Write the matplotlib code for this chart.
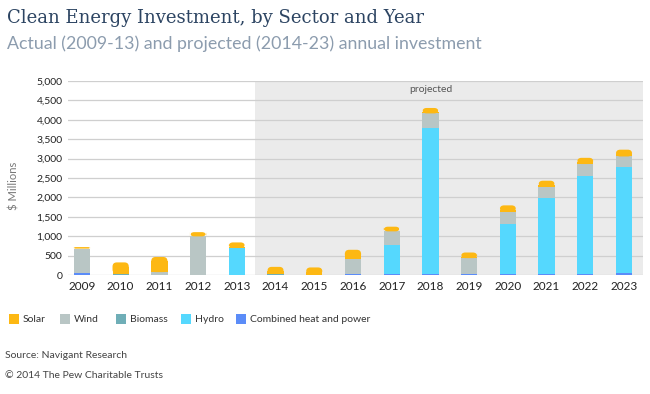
import matplotlib
matplotlib.use('Agg')
import matplotlib.pyplot as plt
from matplotlib.patches import FancyBboxPatch, Rectangle
import numpy as np

# data ($ millions)
years = ['2009', '2010', '2011', '2012', '2013', '2014', '2015', '2016',
         '2017', '2018', '2019', '2020', '2021', '2022', '2023']
chp = [60, 0, 0, 0, 0, 0, 0, 15, 15, 30, 35, 25, 35, 35, 55]
biomass = [0, 35, 0, 0, 0, 35, 10, 0, 0, 0, 0, 0, 0, 0, 0]
hydro = [0, 0, 0, 0, 695, 0, 0, 0, 750, 3770, 0, 1300, 1960, 2525, 2730]
wind = [620, 0, 75, 995, 0, 0, 0, 405, 360, 365, 400, 310, 280, 300, 270]
solar = [40, 290, 390, 110, 145, 175, 185, 230, 120, 140, 145, 160, 155, 160, 175]

series = [('Solar', solar, '#FDB813'),
          ('Wind', wind, '#B9C6C5'),
          ('Biomass', biomass, '#6FAEB7'),
          ('Hydro', hydro, '#55D8FE'),
          ('Combined heat and power', chp, '#5B8CF8')]

plt.rcParams['font.family'] = ['Lato', 'DejaVu Sans']

fig = plt.figure(figsize=(6.5, 3.94), dpi=100)
ax = fig.add_axes([0.1046, 0.302, 0.8846, 0.4924])

x = np.arange(len(years))
w = 0.42
xlim = (-0.36, 14.49)
ylim = (0, 5000)
ax.set_xlim(*xlim)
ax.set_ylim(*ylim)

# shaded projected area
ax.axvspan(4.47, xlim[1], color='#EBEBEB', zorder=0, lw=0)
ax.text(9, 4900, 'projected', ha='center', va='top', fontsize=7.5, color='#555555')

# stacked bars, bottom up
bottom = np.zeros(len(years))
for name, vals, col in [series[4], series[3], series[2], series[1]]:
    ax.bar(x, vals, w, bottom=bottom, color=col, lw=0, zorder=3)
    bottom += np.array(vals)

# solar on top with rounded cap
ax_w = 0.8846 * 650
ax_h = 0.4924 * 394
aspect = ((ylim[1] - ylim[0]) / ax_h) / ((xlim[1] - xlim[0]) / ax_w)
for i in range(len(years)):
    h = solar[i]
    r = min(0.11, h / aspect, w / 2)
    p = FancyBboxPatch((x[i] - w / 2, bottom[i]), w, h,
                       boxstyle='round,pad=0,rounding_size=%f' % r,
                       mutation_aspect=aspect, fc='#FDB813', ec='none', zorder=3)
    ax.add_patch(p)
    if h - r * aspect > 0:
        ax.add_patch(Rectangle((x[i] - w / 2, bottom[i]), w, h - r * aspect,
                               fc='#FDB813', ec='none', zorder=3))

ax.set_xticks(x)
ax.set_xticklabels(years, fontsize=8.5, color='#222222')
ax.set_yticks(np.arange(0, 5001, 500))
ax.set_yticklabels(['{:,}'.format(v) for v in range(0, 5001, 500)], fontsize=7.5, color='#222222')
ax.tick_params(length=0, pad=4)
ax.grid(axis='y', color='#CFCFCF', lw=0.9, zorder=1)
ax.set_axisbelow(True)
for s in ax.spines.values():
    s.set_visible(False)
ax.set_ylabel('$ Millions', fontsize=8, color='#777777')
ax.yaxis.set_label_coords(-0.084, 0.46)

# titles
fig.text(0.011, 0.955, 'Clean Energy Investment, by Sector and Year', fontsize=13,
         family='DejaVu Serif', color='#2C4462', va='center')
fig.text(0.011, 0.888, 'Actual (2009-13) and projected (2014-23) annual investment',
         fontsize=12.75, color='#8C9CAE', va='center')

# legend
leg_x = [9, 60, 116, 181, 236]
for (name, vals, col), lx in zip(series, leg_x):
    fig.patches.append(Rectangle((lx / 650, 1 - 324 / 394), 10 / 650, 10 / 394,
                                 transform=fig.transFigure, fc=col, ec='none'))
    fig.text((lx + 14) / 650, 1 - 319 / 394, name, fontsize=7.5, color='#333333', va='center')

fig.text(5 / 650, 1 - 355 / 394, 'Source: Navigant Research', fontsize=7.5, color='#444444', va='center')
fig.text(5 / 650, 1 - 376 / 394, '\u00a9 2014 The Pew Charitable Trusts', fontsize=7.5,
         color='#444444', va='center')

fig.savefig('out.png', dpi=100)
